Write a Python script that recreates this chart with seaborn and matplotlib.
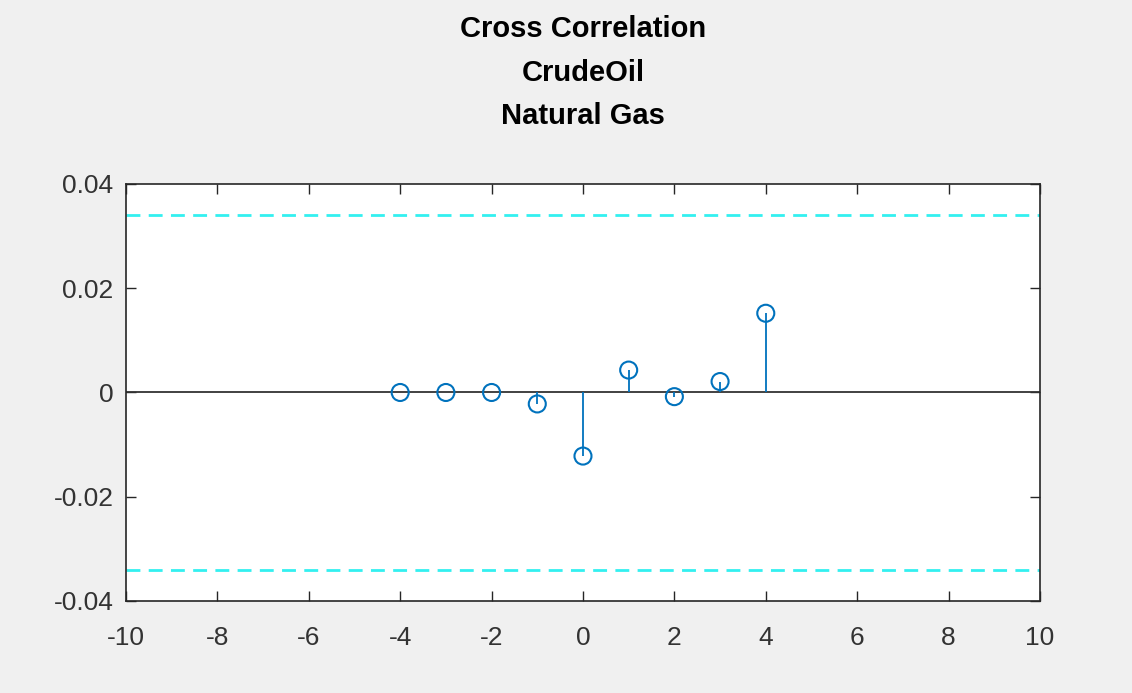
import matplotlib
matplotlib.use("Agg")
import matplotlib.pyplot as plt
import seaborn as sns
import pandas as pd
from matplotlib import font_manager

lags = [-4, -3, -2, -1, 0, 1, 2, 3, 4]
xcf = [0.0, 0.0, 0.0, -0.0022, -0.0122, 0.0043, -0.0008, 0.0021, 0.0152]
bound = 0.034
title_lines = ["Cross Correlation", "CrudeOil", "Natural Gas"]
xticks = [-10, -8, -6, -4, -2, 0, 2, 4, 6, 8, 10]
yticks = [-0.04, -0.02, 0, 0.02, 0.04]
ytick_labels = ["-0.04", "-0.02", "0", "0.02", "0.04"]

sns.set_style("ticks")
names = {f.name for f in font_manager.fontManager.ttflist}
fam = "Liberation Sans Narrow" if "Liberation Sans Narrow" in names else "Liberation Sans"
plt.rcParams["font.family"] = [fam, "DejaVu Sans"]

df = pd.DataFrame({"lag": lags, "xcf": xcf})

fig = plt.figure(figsize=(11.32, 6.93), dpi=100, facecolor="#f0f0f0")
ax = fig.add_axes([0.1113, 0.1328, 0.8074, 0.6017])
ax.set_facecolor("white")

blue = "#0072BD"
ax.vlines(df["lag"], 0, df["xcf"], color=blue, lw=1.3, zorder=2)
sns.scatterplot(data=df, x="lag", y="xcf", ax=ax, marker="o", s=150,
                facecolors="none", edgecolor=blue, linewidth=1.5, zorder=3)
ax.axhline(0, color="#333333", lw=1.3, zorder=1)
ax.axhline(bound, color="#33f0f0", lw=2, ls=(0, (5, 3)), zorder=1)
ax.axhline(-bound, color="#33f0f0", lw=2, ls=(0, (5, 3)), zorder=1)

ax.set_xlim(-10, 10)
ax.set_ylim(-0.04, 0.04)
ax.set_xticks(xticks)
ax.set_xticklabels([str(t) for t in xticks])
ax.set_yticks(yticks)
ax.set_yticklabels(ytick_labels)
ax.tick_params(direction="in", length=7, width=1, color="#262626",
               labelcolor="#333333", labelsize=19, top=True, right=True)
ax.tick_params(axis="x", pad=18)
ax.tick_params(axis="y", pad=9)
for s in ax.spines.values():
    s.set_color("#262626")
    s.set_linewidth(1.2)
ax.set_xlabel("")
ax.set_ylabel("")
ax.set_title("\n".join(title_lines), fontsize=21, fontweight="bold",
             linespacing=1.71, pad=43, color="black")

fig.savefig("out.png", dpi=100, facecolor=fig.get_facecolor())
